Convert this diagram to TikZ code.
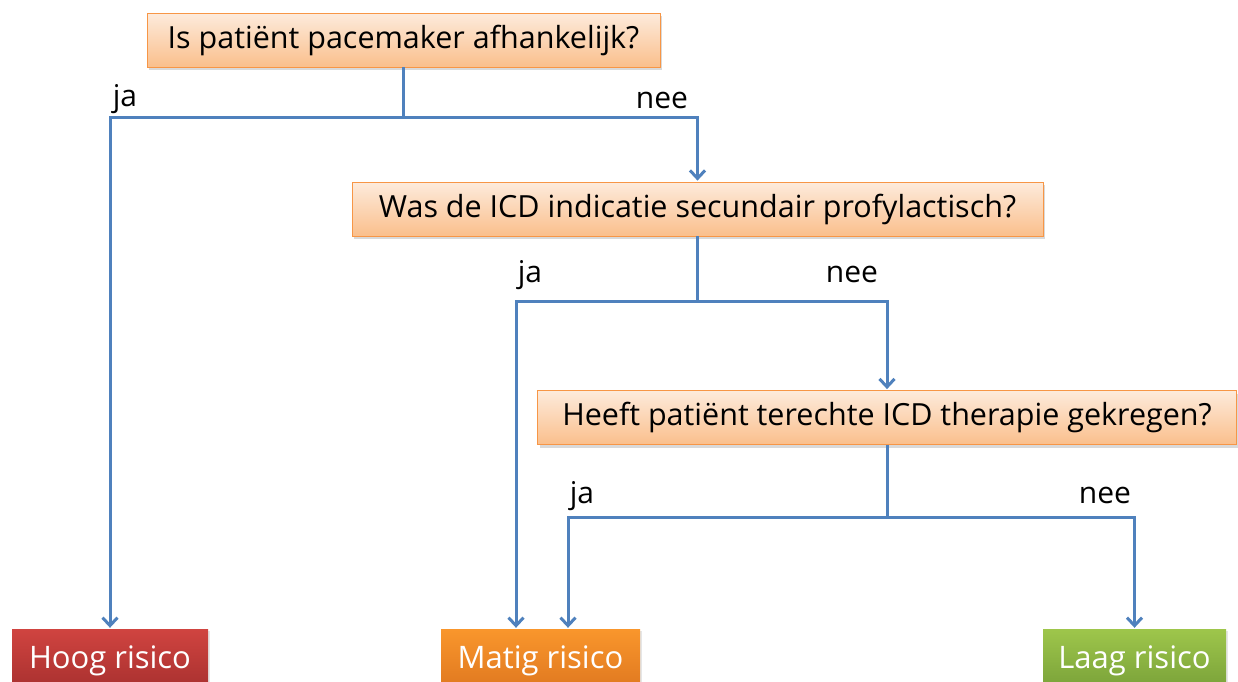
\documentclass[tikz,border=0pt]{standalone}
\usepackage{fontspec}
\setmainfont{Open Sans}
\usetikzlibrary{arrows.meta,shadows}
\definecolor{lijn}{HTML}{4F81BD}
\definecolor{vraagrand}{HTML}{F79646}
\definecolor{vraagboven}{HTML}{FDEBDC}
\definecolor{vraagonder}{HTML}{FABF8C}
\definecolor{hoogboven}{HTML}{D04440}
\definecolor{hoogonder}{HTML}{A62F2E}
\definecolor{matigboven}{HTML}{F9962C}
\definecolor{matigonder}{HTML}{DE761F}
\definecolor{laagboven}{HTML}{9EC64B}
\definecolor{laagonder}{HTML}{779F38}
\begin{document}
\begin{tikzpicture}[x=1pt,y=-1pt,
    vraag/.style={draw=vraagrand,line width=0.8pt,top color=vraagboven,bottom color=vraagonder,
        minimum height=54pt,inner sep=0pt,font=\fontsize{30.5}{34}\selectfont,
        drop shadow={opacity=0.3,shadow xshift=2pt,shadow yshift=-3pt}},
    risico/.style={minimum height=64pt,inner sep=0pt,text=white,font=\fontsize{31}{34}\selectfont,
        drop shadow={opacity=0.2,shadow xshift=2pt,shadow yshift=-2pt}},
    pijl/.style={draw=lijn,line width=3pt,-{Straight Barb[length=8pt,width=15pt]},shorten >=1pt},
    tak/.style={draw=lijn,line width=3pt},
    keus/.style={font=\fontsize{30}{34}\selectfont,anchor=base}]
\useasboundingbox (0,0) rectangle (1238,681);

% vragen
\node[vraag,minimum width=513pt] (q1) at (403.5,40) {Is patiënt pacemaker afhankelijk?};
\node[vraag,minimum width=691pt] (q2) at (697.5,209) {Was de ICD indicatie secundair profylactisch?};
\node[vraag,minimum width=699pt] (q3) at (887,417.5) {Heeft patiënt terechte ICD therapie gekregen?};

% uitkomsten
\node[risico,minimum width=196pt,top color=hoogboven,bottom color=hoogonder] (hoog) at (110,661) {Hoog risico};
\node[risico,minimum width=199pt,top color=matigboven,bottom color=matigonder] (matig) at (540.5,661) {Matig risico};
\node[risico,minimum width=183pt,top color=laagboven,bottom color=laagonder] (laag) at (1134.5,661) {Laag risico};

% vertakkingen
\coordinate (m1) at (403.5,117);
\coordinate (l1) at (110,117);
\coordinate (r1) at (697.5,117);
\coordinate (m2) at (697.5,301);
\coordinate (l2) at (516,301);
\coordinate (r2) at (887,301);
\coordinate (m3) at (887,517);
\coordinate (l3) at (568,517);
\coordinate (r3) at (1134.5,517);

\draw[tak] (q1.south) -- (m1);
\draw[pijl] (m1) -- (l1) -- (hoog.north);
\draw[pijl] (m1) -- (r1) -- (q2.north);
\draw[tak] (q2.south) -- (m2);
\draw[pijl] (m2) -- (l2) -- (l2 |- matig.north);
\draw[pijl] (m2) -- (r2) -- (q3.north);
\draw[tak] (q3.south) -- (m3);
\draw[pijl] (m3) -- (l3) -- (l3 |- matig.north);
\draw[pijl] (m3) -- (r3) -- (laag.north);

\node[keus] (ja1) at (125,106) {ja};
\node[keus] (nee1) at (662,108) {nee};
\node[keus] (ja2) at (530,282) {ja};
\node[keus] (nee2) at (852,282) {nee};
\node[keus] (ja3) at (582,503) {ja};
\node[keus] (nee3) at (1105,503) {nee};
\end{tikzpicture}
\end{document}
